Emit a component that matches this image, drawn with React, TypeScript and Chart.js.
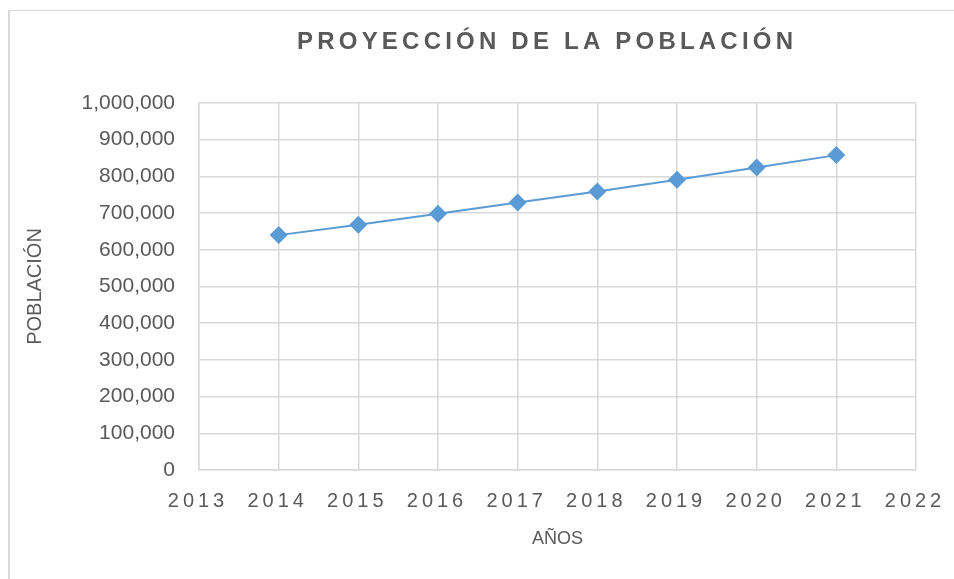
import React, { useEffect, useRef } from "react";
import { Chart, registerables } from "chart.js";

Chart.register(...registerables);

const chartTitle = "PROYECCIÓN DE LA POBLACIÓN";
const xAxisTitle = "AÑOS";
const yAxisTitle = "POBLACIÓN";
const years = [2014, 2015, 2016, 2017, 2018, 2019, 2020, 2021];
const population = [640000, 668000, 698000, 729000, 759000, 791000, 824000, 858000];
const xMin = 2013;
const xMax = 2022;
const yMin = 0;
const yMax = 1000000;
const yStep = 100000;

const FONT = '"Liberation Sans", Arial, sans-serif';
const TEXT = "#595959";
const GRID = "#d9d9d9";
const BLUE = "#5b9bd5";

const titlePlugin = {
  id: "excelTitle",
  beforeDraw(chart: any) {
    const xs = chart.scales.x;
    if (xs && !xs.__patched) {
      const orig = xs.drawLabels.bind(xs);
      xs.drawLabels = (area: any) => {
        const c = chart.ctx;
        c.save();
        (c as any).letterSpacing = "4px";
        c.translate(-1, 0);
        orig(area);
        c.restore();
      };
      xs.__patched = true;
    }
  },
  afterDraw(chart: any) {
    const c = chart.ctx;
    c.save();
    c.font = `bold 24px ${FONT}`;
    c.fillStyle = TEXT;
    c.textAlign = "left";
    c.textBaseline = "alphabetic";
    (c as any).letterSpacing = "0px";
    const w0 = c.measureText(chartTitle).width;
    const target = 496;
    const n = Array.from(chartTitle).length;
    const sp = Math.max(0, (target - w0) / (n - 1));
    (c as any).letterSpacing = `${sp}px`;
    c.fillText(chartTitle, 297, 49);
    c.restore();
  },
};

export default function App() {
  const ref = useRef<HTMLCanvasElement | null>(null);
  useEffect(() => {
    if (!ref.current) return;
    const chart = new Chart(ref.current, {
      type: "line",
      data: {
        datasets: [
          {
            label: yAxisTitle,
            data: years.map((y, i) => ({ x: y, y: population[i] })),
            borderColor: BLUE,
            backgroundColor: BLUE,
            borderWidth: 2,
            pointStyle: "rectRot",
            pointRadius: 9,
            pointBorderWidth: 0,
            pointBackgroundColor: BLUE,
            tension: 0,
          },
        ],
      },
      plugins: [titlePlugin],
      options: {
        responsive: false,
        animation: false,
        layout: { padding: { top: 103, right: 38, left: 0, bottom: 0 } },
        plugins: { legend: { display: false }, title: { display: false }, tooltip: { enabled: false } },
        scales: {
          x: {
            type: "linear",
            min: xMin,
            max: xMax,
            afterFit: (s: any) => {
              s.height = 109;
              s.paddingLeft = 0;
              s.paddingRight = 0;
            },
            ticks: {
              stepSize: 1,
              padding: 19,
              color: TEXT,
              font: { family: FONT, size: 20 },
              callback: (v: any) => String(v),
              maxRotation: 0,
            },
            grid: { color: GRID, lineWidth: 1.5, drawTicks: false },
            border: { color: GRID, width: 1.5 },
            title: {
              display: true,
              text: xAxisTitle,
              color: TEXT,
              font: { family: FONT, size: 18 },
              padding: { top: 29, bottom: 29 },
            },
          },
          y: {
            type: "linear",
            min: yMin,
            max: yMax,
            afterFit: (s: any) => {
              s.width = 199;
              s.paddingTop = 0;
              s.paddingBottom = 0;
            },
            ticks: {
              stepSize: yStep,
              padding: 24,
              color: TEXT,
              font: { family: FONT, size: 21 },
              callback: (v: any) => Number(v).toLocaleString("en-US"),
            },
            grid: { color: GRID, lineWidth: 1.5, drawTicks: false },
            border: { color: GRID, width: 1.5 },
            title: {
              display: true,
              text: yAxisTitle,
              color: TEXT,
              font: { family: FONT, size: 20 },
              padding: { top: 23, bottom: 23 },
            },
          },
        },
      },
    });
    return () => chart.destroy();
  }, []);
  return (
    <div style={{ position: "absolute", left: 0, top: 0, width: 954, height: 579, overflow: "hidden", background: "#fff" }}>
      <div
        style={{
          position: "absolute",
          left: 8,
          top: 10,
          width: 1100,
          height: 700,
          borderLeft: `2px solid ${GRID}`,
          borderTop: `1px solid ${GRID}`,
        }}
      />
      <canvas ref={ref} width={954} height={579} style={{ position: "absolute", left: 0, top: 0, display: "block" }} />
    </div>
  );
}
